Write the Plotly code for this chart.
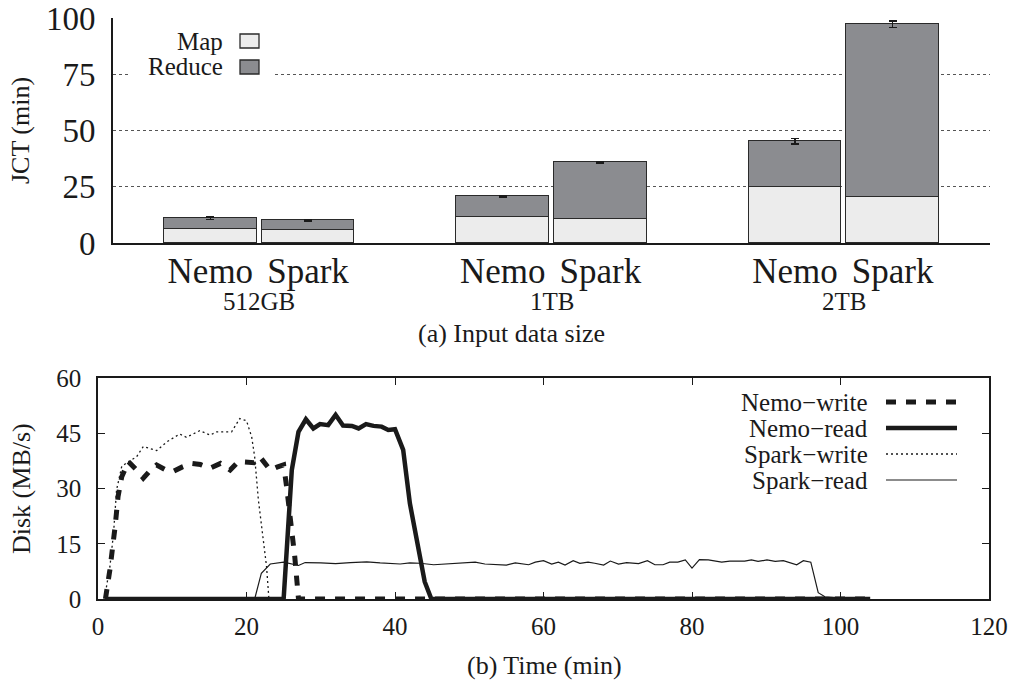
import plotly.graph_objects as go

# ---------------- data: (a) JCT ----------------
sizes = ["512GB", "1TB", "2TB"]
systems = ["Nemo", "Spark"]
nemo_map = [6.4, 11.7, 24.9]
nemo_total = [11.0, 20.7, 45.2]
nemo_err = [0.6, 0.3, 1.2]
spark_map = [5.6, 10.7, 20.6]
spark_total = [10.1, 35.9, 97.2]
spark_err = [0.3, 0.3, 1.4]
jct_ticks = [0, 25, 50, 75, 100]

# ---------------- data: (b) disk ----------------
nemo_write_t = [1.0, 1.6, 2.3, 2.7, 3.2, 4.1, 5.2, 6.1, 7.0, 7.9, 9.0, 10.1, 11.3, 12.6, 13.8, 15.1,
                16.5, 17.8, 18.9, 20.0, 21.0, 21.8, 23.2, 24.1, 25.0, 25.4, 26.1, 26.5, 27.0, 104.0]
nemo_write_v = [0.0, 7.9, 19.6, 27.8, 33.2, 37.3, 35.0, 32.8, 34.8, 36.4, 35.2, 34.6, 35.8, 36.8, 36.5, 35.5,
                36.8, 35.0, 37.3, 37.3, 37.0, 38.6, 35.0, 35.8, 36.4, 30.5, 18.7, 11.5, 0.0, 0.0]

nemo_read_t = [1.2, 25.0, 26.1, 27.0, 28.0, 29.0, 29.9, 31.0, 32.0, 33.0, 34.2, 35.1, 36.1, 37.1,
               38.2, 39.1, 40.0, 41.1, 42.0, 43.1, 44.0, 44.9, 104.0]
nemo_read_v = [0.0, 0.0, 35.0, 45.4, 48.8, 46.3, 47.5, 47.2, 50.0, 47.1, 47.0, 46.3, 47.5, 47.0,
               46.8, 45.9, 46.1, 40.5, 26.0, 15.1, 4.7, 0.0, 0.0]

spark_write_t = [0.9, 1.6, 2.1, 2.5, 3.2, 4.1, 5.2, 6.1, 7.9, 9.3, 11.0, 11.9, 13.7, 15.1, 16.0,
                 18.0, 19.1, 20.0, 20.7, 21.1, 21.6, 22.3, 22.7, 23.0]
spark_write_v = [0.5, 8.7, 18.0, 29.6, 36.0, 37.3, 38.6, 41.4, 40.3, 42.7, 44.8, 43.9, 45.7, 44.5, 45.4,
                 45.4, 49.0, 48.4, 44.0, 38.6, 26.9, 16.0, 8.8, 0.5]

spark_read_t = [21.1, 22.0, 23.2, 25.0, 27.0, 27.9, 30.0, 32.0, 34.0, 36.2, 38.0, 40.7, 42.0, 43.4, 45.2,
                47.0, 48.8, 50.8, 52.1, 55.0, 56.2, 58.0, 58.9, 60.0, 61.1, 62.0, 62.9, 64.0, 64.9,
                66.0, 66.9, 68.1, 69.0, 70.1, 71.2, 72.8, 74.0, 75.0, 76.1, 77.0, 78.1, 79.1, 80.0,
                81.0, 82.2, 84.0, 85.1, 87.1, 88.0, 88.9, 90.1, 91.2, 92.3, 94.1, 95.0, 96.0, 97.0,
                97.9, 99.5]
spark_read_v = [0.0, 7.0, 9.5, 10.0, 9.1, 9.9, 9.8, 9.6, 9.9, 10.1, 9.8, 9.5, 9.8, 9.7, 9.3,
                9.5, 9.9, 10.0, 9.5, 9.2, 9.8, 9.3, 10.0, 10.4, 9.5, 10.0, 9.2, 10.4, 9.7,
                10.0, 9.7, 9.2, 10.3, 9.5, 9.9, 9.6, 10.4, 9.3, 9.3, 10.0, 10.0, 10.6, 8.4,
                10.7, 10.6, 10.0, 10.3, 10.3, 10.6, 10.2, 10.6, 10.2, 10.4, 9.3, 10.4, 10.0, 1.7,
                0.6, 0.3]
disk_xticks = [0, 20, 40, 60, 80, 100, 120]
disk_yticks = [0, 15, 30, 45, 60]

legend_a = ["Map", "Reduce"]
legend_b = ["Nemo\u2212write", "Nemo\u2212read", "Spark\u2212write", "Spark\u2212read"]

# ---------------- styling ----------------
W, H = 1022, 683
FONT = "Liberation Serif"
INK = "#1a1a1a"
MAP_FILL = "#ececec"
RED_FILL = "#8b8c90"
OUTLINE = "#2a2a2a"


def px_x(p):
    return p / W


def px_y(p):
    return 1 - p / H


OFF = 0.167
BAR_W = 0.318
pos, tick_text, maps, reduces, errs = [], [], [], [], []
for i in range(len(sizes)):
    pos += [i - OFF, i + OFF]
    tick_text += systems
    maps += [nemo_map[i], spark_map[i]]
    reduces += [nemo_total[i] - nemo_map[i], spark_total[i] - spark_map[i]]
    errs += [nemo_err[i], spark_err[i]]

fig = go.Figure()
fig.add_trace(go.Bar(x=pos, y=maps, width=BAR_W, name="Map", marker=dict(color=MAP_FILL, line=dict(color=OUTLINE, width=1.3)),
                     xaxis="x", yaxis="y", showlegend=False))
fig.add_trace(go.Bar(x=pos, y=reduces, width=BAR_W, name="Reduce", marker=dict(color=RED_FILL, line=dict(color=OUTLINE, width=1.3)),
                     error_y=dict(type="data", array=errs, color=INK, thickness=1.5, width=4),
                     xaxis="x", yaxis="y", showlegend=False))

line_specs = [
    (nemo_write_t, nemo_write_v, dict(color=INK, width=5, dash="10px,10px")),
    (nemo_read_t, nemo_read_v, dict(color=INK, width=4.5)),
    (spark_write_t, spark_write_v, dict(color=INK, width=1.3, dash="2px,3px")),
    (spark_read_t, spark_read_v, dict(color=INK, width=1.2)),
]
for (t, v, ln), name in zip(line_specs, legend_b):
    fig.add_trace(go.Scatter(x=t, y=v, mode="lines", name=name, line=ln, xaxis="x2", yaxis="y2", showlegend=False))

annotations = []
shapes = []

# group labels
for i, s in enumerate(sizes):
    annotations.append(dict(x=i, y=px_y(301), xref="x", yref="paper", text=s, showarrow=False,
                            font=dict(family=FONT, size=25, color=INK), xanchor="center", yanchor="middle"))
# captions and axis titles
annotations += [
    dict(x=0.5, y=px_y(334), xref="paper", yref="paper", text="(a) Input data size", showarrow=False,
         font=dict(family=FONT, size=26, color=INK), xanchor="center", yanchor="middle"),
    dict(x=px_x(544), y=px_y(665), xref="paper", yref="paper", text="(b) Time (min)", showarrow=False,
         font=dict(family=FONT, size=26, color=INK), xanchor="center", yanchor="middle"),
    dict(x=px_x(21), y=px_y(131), xref="paper", yref="paper", text="JCT (min)", showarrow=False, textangle=-90,
         font=dict(family=FONT, size=26, color=INK), xanchor="center", yanchor="middle"),
    dict(x=px_x(21), y=px_y(489), xref="paper", yref="paper", text="Disk (MB/s)", showarrow=False, textangle=-90,
         font=dict(family=FONT, size=26, color=INK), xanchor="center", yanchor="middle"),
]

# legend (a)
shapes.append(dict(type="rect", xref="paper", yref="paper", x0=px_x(129), x1=px_x(274), y0=px_y(28), y1=px_y(82),
                   fillcolor="white", line=dict(width=0), layer="above"))
for k, (name, fill, yc) in enumerate(zip(legend_a, [MAP_FILL, RED_FILL], [41, 67])):
    annotations.append(dict(x=px_x(225), y=px_y(yc), xref="paper", yref="paper", text=name, showarrow=False,
                            font=dict(family=FONT, size=25, color=INK), xanchor="right", yanchor="middle"))
    shapes.append(dict(type="rect", xref="paper", yref="paper", x0=px_x(240), x1=px_x(259),
                       y0=px_y(yc - 7), y1=px_y(yc + 7), fillcolor=fill, line=dict(color=OUTLINE, width=1.3), layer="above"))

# legend (b)
for (t, v, ln), name, yc in zip(line_specs, legend_b, [402, 428, 454, 480]):
    annotations.append(dict(x=px_x(870), y=px_y(yc), xref="paper", yref="paper", text=name, showarrow=False,
                            font=dict(family=FONT, size=25, color=INK), xanchor="right", yanchor="middle"))
    shapes.append(dict(type="line", xref="paper", yref="paper", x0=px_x(886), x1=px_x(957), y0=px_y(yc), y1=px_y(yc),
                       line=ln, layer="above"))

fig.update_layout(
    width=W, height=H,
    margin=dict(l=0, r=0, t=0, b=0),
    paper_bgcolor="white", plot_bgcolor="white",
    barmode="stack", bargap=0,
    font=dict(family=FONT, color=INK),
    xaxis=dict(domain=[px_x(113), px_x(990)], range=[-0.5, 2.5], tickvals=pos, ticktext=tick_text,
               tickfont=dict(size=35, family=FONT, color=INK), ticks="", showgrid=False, zeroline=False,
               showline=True, linecolor=INK, linewidth=2, anchor="y", ticklabelstandoff=-4, automargin=False),
    yaxis=dict(domain=[px_y(243), px_y(18)], range=[0, 100], tickvals=jct_ticks,
               tickfont=dict(size=33, family=FONT, color=INK), ticks="", showgrid=True, gridcolor="#555555",
               griddash="dot", gridwidth=1, zeroline=False, showline=True, linecolor=INK, linewidth=2,
               anchor="x", ticklabelstandoff=9, automargin=False),
    xaxis2=dict(domain=[px_x(98), px_x(989)], range=[0, 120], tickvals=disk_xticks,
                tickfont=dict(size=25, family=FONT, color=INK), ticks="inside", ticklen=7, tickwidth=1.3,
                tickcolor=INK, mirror="ticks", showgrid=False, zeroline=False, showline=True, linecolor=INK,
                linewidth=1.5, anchor="y2", ticklabelstandoff=4, automargin=False),
    yaxis2=dict(domain=[px_y(599), px_y(378)], range=[0, 60], tickvals=disk_yticks,
                tickfont=dict(size=25, family=FONT, color=INK), ticks="inside", ticklen=7, tickwidth=1.3,
                tickcolor=INK, mirror="ticks", showgrid=False, zeroline=False, showline=True, linecolor=INK,
                linewidth=1.5, anchor="x2", ticklabelstandoff=10, automargin=False),
    annotations=annotations,
    shapes=shapes,
)

fig.write_html("out.html", config={"displayModeBar": False},
               post_script="document.body.style.margin='0';document.body.style.padding='0';")
